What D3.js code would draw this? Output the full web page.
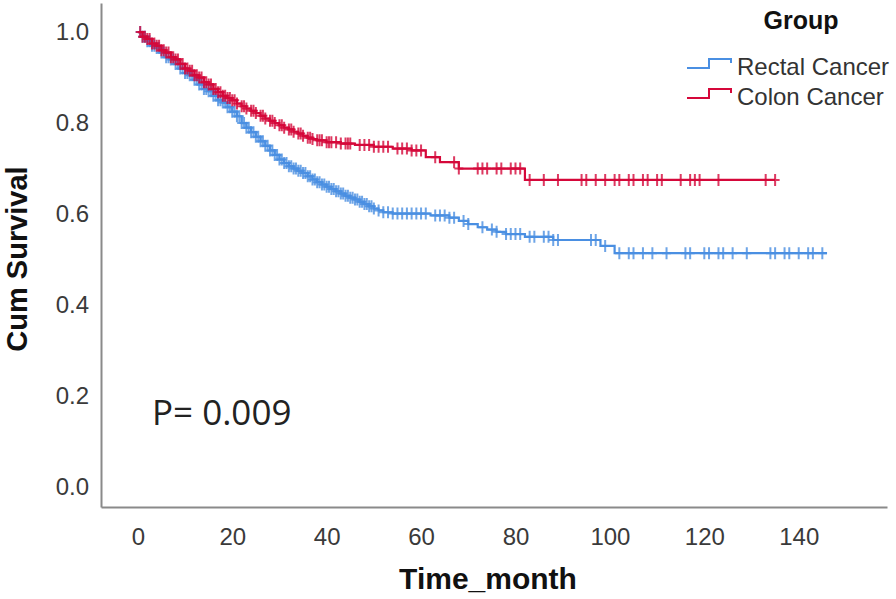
<!DOCTYPE html>
<html>
<head>
<meta charset="utf-8">
<script src="https://cdn.jsdelivr.net/npm/d3@7"></script>
<style>
  body { margin: 0; background: #fff; }
  svg { display: block; font-family: "Liberation Sans", Arial, sans-serif; }
  .axis .domain { stroke: #8a8a8a; stroke-width: 2; }
  .axis text { font-size: 24px; fill: #3a3a3a; }
</style>
</head>
<body>
<svg id="chart"></svg>
<script>
const RECTAL_COLOR = '#4a8fe2';
const COLON_COLOR = '#d5083a';

// x ticks / y ticks
const xTicks = [0, 20, 40, 60, 80, 100, 120, 140];
const yTicks = [0, 0.2, 0.4, 0.6, 0.8, 1.0];

const groups = ['Rectal Cancer', 'Colon Cancer'];

// Kaplan-Meier steps: time of event, survival after the event
const rectalTime = [0, 1, 2, 3, 4, 5, 6, 7, 8, 9, 10, 11, 12, 13, 14, 15, 16, 17, 18, 19, 20,
  21, 22, 23, 24, 25, 26, 27, 28, 29, 30, 31, 32, 33, 34, 35, 36, 37, 38, 39, 40,
  41, 42, 43, 44, 45, 46, 47, 48, 49, 50, 51, 52, 54, 62, 66, 68, 70, 72, 74, 76, 78, 82, 88, 98, 101];
const rectalSurv = [1.0, 0.99, 0.98, 0.97, 0.965, 0.955, 0.945, 0.94, 0.93, 0.92, 0.91, 0.905, 0.895, 0.885, 0.875, 0.87, 0.86, 0.85, 0.845, 0.835, 0.825,
  0.815, 0.80, 0.79, 0.78, 0.77, 0.76, 0.75, 0.74, 0.73, 0.72, 0.712, 0.705, 0.70, 0.695, 0.69, 0.683, 0.676, 0.67, 0.665, 0.66,
  0.655, 0.65, 0.645, 0.64, 0.636, 0.632, 0.627, 0.622, 0.617, 0.612, 0.608, 0.604, 0.601, 0.597, 0.592, 0.585, 0.578, 0.571, 0.566, 0.561, 0.556, 0.55, 0.543, 0.53, 0.514];
const rectalEnd = 146;
const rectalCensor = [0.5, 1, 1.5, 2, 2.5, 3, 3.5, 4, 4.5, 5, 5.5, 6, 6.5, 7, 7.5, 8, 8.5, 9, 9.5, 10, 10.5, 11, 11.5, 12, 12.5, 13, 13.5, 14, 14.5, 15,
  15.5, 16, 16.5, 17, 17.5, 18, 18.5, 19, 19.5, 20, 20.5, 21, 21.5, 22, 22.5, 23, 23.5, 24, 24.5, 25, 25.5, 26, 26.5, 27, 27.5, 28, 28.5, 29, 29.5, 30,
  30.5, 31, 31.5, 32, 32.5, 33, 33.5, 34, 34.5, 35, 35.5, 36, 36.5, 37, 37.5, 38, 38.5, 39, 39.5, 40, 40.5, 41, 41.5, 42, 42.5, 43, 43.5, 44, 44.5, 45,
  45.5, 46, 46.5, 47, 47.5, 48, 48.5, 49, 49.5, 50, 51, 52, 53, 54, 55, 56, 57, 58, 59, 60, 61, 63, 64, 65, 66, 67, 69, 70, 73, 75, 76, 78, 79, 80, 81,
  83, 84, 86, 87, 88, 89, 96, 97, 99, 102, 104, 105, 107, 109, 112, 116, 117, 120, 121, 123, 124, 126, 129, 134, 135, 137, 138, 140, 142, 143, 145];

const colonTime = [0, 1, 2, 3, 4, 5, 6, 7, 8, 9, 10, 11, 12, 13, 14, 15, 16, 17, 18, 19, 20,
  21, 22, 23, 24, 25, 26, 27, 28, 29, 30, 31, 32, 33, 34, 35, 36, 37, 38, 40, 43, 46, 50, 54, 58, 61, 64, 68, 82];
const colonSurv = [1.0, 0.99, 0.985, 0.975, 0.97, 0.96, 0.955, 0.945, 0.94, 0.93, 0.92, 0.915, 0.905, 0.90, 0.89, 0.885, 0.875, 0.868, 0.86, 0.855, 0.85,
  0.843, 0.837, 0.832, 0.827, 0.822, 0.816, 0.81, 0.805, 0.80, 0.795, 0.79, 0.786, 0.781, 0.777, 0.772, 0.768, 0.765, 0.762, 0.758, 0.755, 0.752, 0.748, 0.744, 0.74, 0.725, 0.714, 0.70, 0.675];
const colonEnd = 135;
const colonCensor = [0.5, 1, 1.5, 2, 2.5, 3, 3.5, 4, 4.5, 5, 5.5, 6, 6.5, 7, 7.5, 8, 8.5, 9, 9.5, 10, 10.5, 11, 11.5, 12, 12.5, 13, 13.5, 14, 14.5, 15,
  15.5, 16, 16.5, 17, 17.5, 18, 18.5, 19, 19.5, 20, 20.5, 21, 22, 22.5, 23, 24, 24.5, 25, 26, 26.5, 27, 28, 28.5, 29, 30, 30.5, 31, 32, 32.5, 33,
  34, 34.5, 35, 36, 36.5, 37, 38, 38.5, 39, 40, 40.5, 41, 42, 43, 44, 44.5, 45, 47, 48, 49, 50,
  51, 52, 53, 55, 56, 57, 58, 59, 60, 63, 67, 68, 72, 73, 74, 76, 77, 79, 80, 81, 83, 86, 89, 94, 95, 97,
  99, 101, 102, 104, 105, 107, 108, 110, 111, 115, 117, 118, 119, 123, 133, 135];

const pText = 'P= 0.009';

const width = 896, height = 599;
const svg = d3.select('#chart').attr('width', width).attr('height', height);

const x = d3.scaleLinear().domain([-7.8, 158.7]).range([101, 887]);
const y = d3.scaleLinear().domain([-0.044, 1.064]).range([507, 3]);

// axes (no tick marks, SPSS style)
svg.append('g')
  .attr('class', 'axis x-axis')
  .attr('transform', `translate(0,507)`)
  .call(d3.axisBottom(x).tickValues(xTicks).tickSize(0).tickSizeOuter(0).tickPadding(21).tickFormat(d3.format('d')))
  .call(g => g.selectAll('.tick line').remove());

svg.append('g')
  .attr('class', 'axis y-axis')
  .attr('transform', `translate(101,0)`)
  .call(d3.axisLeft(y).tickValues(yTicks).tickSize(0).tickSizeOuter(0).tickPadding(12).tickFormat(d3.format('.1f')))
  .call(g => g.selectAll('.tick line').remove());

// axis titles
svg.append('text')
  .attr('transform', 'translate(27,259) rotate(-90)')
  .attr('text-anchor', 'middle')
  .attr('font-size', 29).attr('font-weight', 'bold').attr('fill', '#111')
  .text('Cum Survival');

svg.append('text')
  .attr('x', 488).attr('y', 589)
  .attr('text-anchor', 'middle')
  .attr('font-size', 30).attr('font-weight', 'bold').attr('fill', '#111')
  .text('Time_month');

function stepPoints(times, surv, end) {
  const pts = times.map((t, i) => [t, surv[i]]);
  pts.push([end, surv[surv.length - 1]]);
  return pts;
}

function survAt(times, surv, t) {
  const i = d3.bisectRight(times, t) - 1;
  return surv[Math.max(i, 0)];
}

const series = [
  {name: groups[0], color: RECTAL_COLOR, times: rectalTime, surv: rectalSurv, end: rectalEnd, censor: rectalCensor},
  {name: groups[1], color: COLON_COLOR, times: colonTime, surv: colonSurv, end: colonEnd, censor: colonCensor}
];

const line = d3.line().x(d => x(d[0])).y(d => y(d[1])).curve(d3.curveStepAfter);

series.forEach(s => {
  const g = svg.append('g').attr('class', 'km');
  g.append('path')
    .attr('d', line(stepPoints(s.times, s.surv, s.end)))
    .attr('fill', 'none')
    .attr('stroke', s.color)
    .attr('stroke-width', 2.2);

  g.selectAll('.censor')
    .data(s.censor)
    .join('path')
    .attr('class', 'censor')
    .attr('d', t => {
      const cx = x(t), cy = y(survAt(s.times, s.surv, t));
      return `M${cx},${cy - 6}v12M${cx - 4.5},${cy}h9`;
    })
    .attr('stroke', s.color)
    .attr('stroke-width', 2)
    .attr('opacity', 0.8);
});

// p-value
svg.append('text')
  .attr('x', 152).attr('y', 425)
  .attr('font-family', '"Open Sans", "Noto Sans", sans-serif')
  .attr('font-size', 35).attr('fill', '#222')
  .text(pText);

// legend
const legend = svg.append('g').attr('class', 'legend');
legend.append('text')
  .attr('x', 801).attr('y', 29)
  .attr('text-anchor', 'middle')
  .attr('font-size', 25).attr('font-weight', 'bold').attr('fill', '#111')
  .text('Group');

series.forEach((s, i) => {
  const ly = 68 + i * 30;
  legend.append('path')
    .attr('d', `M687,${ly}H709V${ly - 9}H731V${ly - 5}`)
    .attr('fill', 'none')
    .attr('stroke', s.color)
    .attr('stroke-width', 2);
  legend.append('text')
    .attr('x', 737).attr('y', ly + 7)
    .attr('font-size', 24).attr('fill', '#333')
    .text(s.name);
});
</script>
</body>
</html>
